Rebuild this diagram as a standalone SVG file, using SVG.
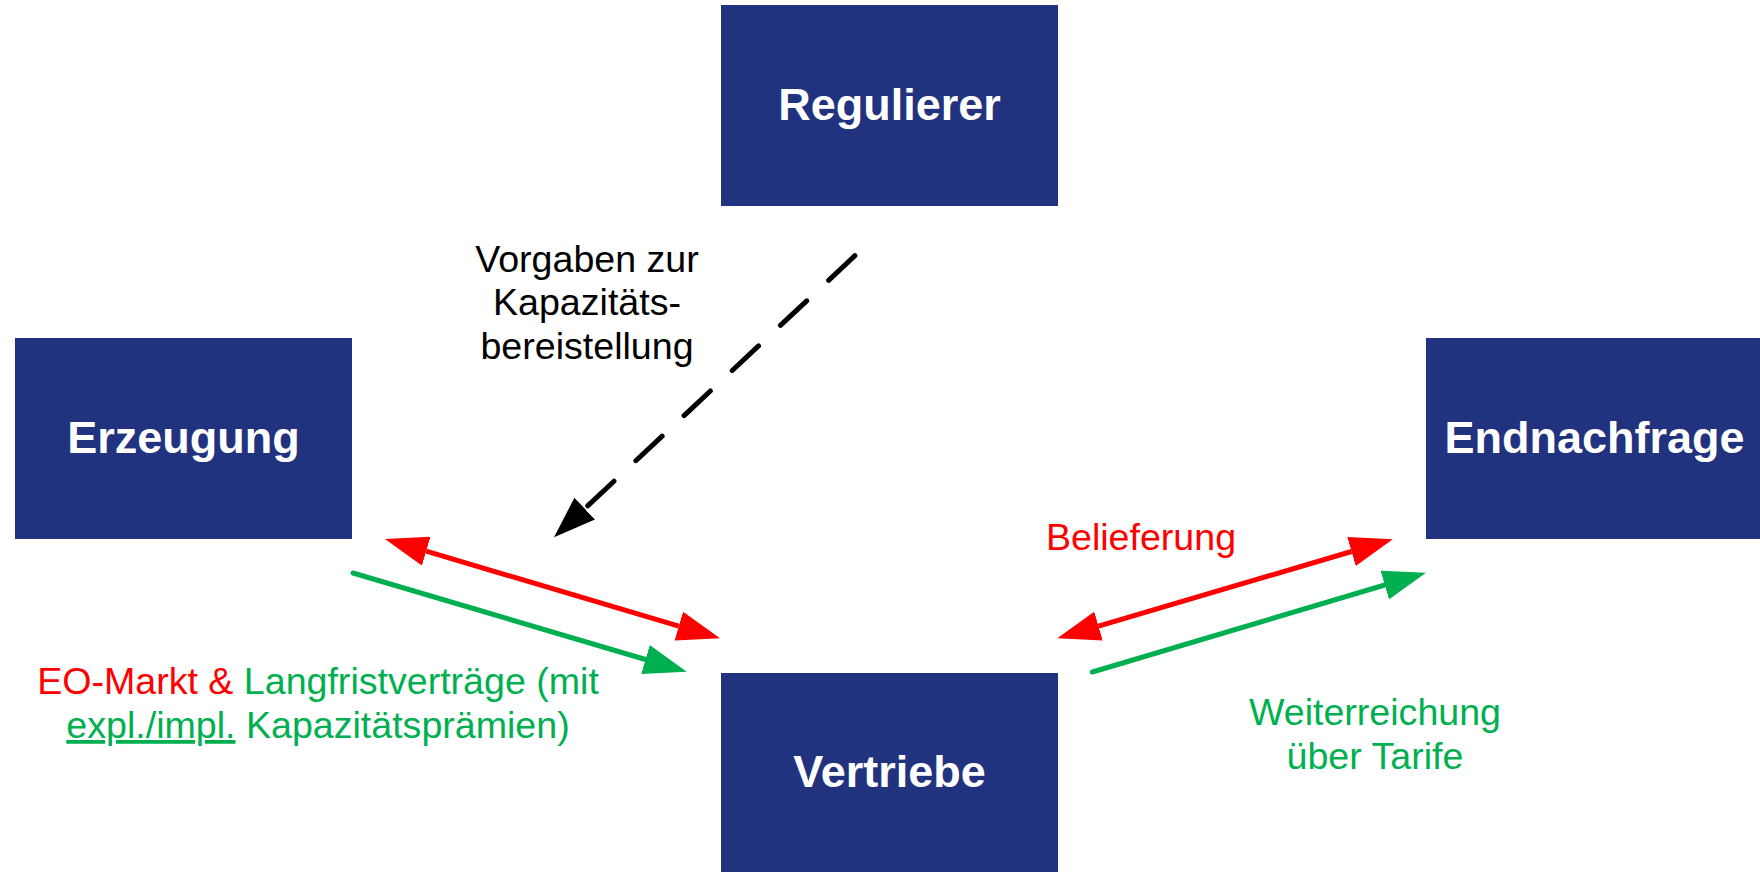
<svg xmlns="http://www.w3.org/2000/svg" width="1760" height="872" viewBox="0 0 1760 872">
  <style>
    .box { fill: #21327E; }
    .nodetext { font-family: "Liberation Sans", Arial, sans-serif; font-size: 45px; font-weight: bold; fill: #FFFFFF; text-anchor: middle; }
    .label { font-family: "Liberation Sans", Arial, sans-serif; font-size: 37.6px; text-anchor: middle; }
    .red { fill: #FF0000; }
    .green { fill: #00B050; }
    .black { fill: #000000; }
    .conn { fill: none; stroke-width: 5; }
  </style>
  <defs>
    <marker id="ah-red" viewBox="0 -15 43 30" refX="0" refY="0" markerWidth="43" markerHeight="30" markerUnits="userSpaceOnUse" orient="auto-start-reverse">
      <path d="M0,-15 L43,0 L0,15 Z" fill="#FF0000"/>
    </marker>
    <marker id="ah-green" viewBox="0 -15 43 30" refX="0" refY="0" markerWidth="43" markerHeight="30" markerUnits="userSpaceOnUse" orient="auto-start-reverse">
      <path d="M0,-15 L43,0 L0,15 Z" fill="#00B050"/>
    </marker>
    <marker id="ah-black" viewBox="0 -15 42 30" refX="0" refY="0" markerWidth="42" markerHeight="30" markerUnits="userSpaceOnUse" orient="auto">
      <path d="M0,-15 L42,0 L0,15 Z" fill="#000000"/>
    </marker>
  </defs>

  <g id="node-regulierer">
    <rect class="box" x="721" y="5" width="337" height="201"/>
    <text class="nodetext" x="889.5" y="119.5">Regulierer</text>
  </g>
  <g id="node-erzeugung">
    <rect class="box" x="15" y="338" width="337" height="201"/>
    <text class="nodetext" x="183.5" y="452.5">Erzeugung</text>
  </g>
  <g id="node-endnachfrage">
    <rect class="box" x="1426" y="338" width="337" height="201"/>
    <text class="nodetext" x="1594.5" y="452.5">Endnachfrage</text>
  </g>
  <g id="node-vertriebe">
    <rect class="box" x="721" y="673" width="337" height="201"/>
    <text class="nodetext" x="889.5" y="787">Vertriebe</text>
  </g>

  <g id="connectors">
    <path class="conn" d="M854.9,255.7 L584.7,508.6" stroke="#000000" stroke-linecap="round" stroke-dasharray="36 30" marker-end="url(#ah-black)"/>
    <path class="conn" d="M426.2,551.2 L678.8,626.1" stroke="#FF0000" marker-start="url(#ah-red)" marker-end="url(#ah-red)"/>
    <path class="conn" d="M353,573 L645.5,659.5" stroke="#00B050" stroke-linecap="round" marker-end="url(#ah-green)"/>
    <path class="conn" d="M1098.5,626.1 L1351.5,551.5" stroke="#FF0000" marker-start="url(#ah-red)" marker-end="url(#ah-red)"/>
    <path class="conn" d="M1092.4,672 L1384.8,585" stroke="#00B050" stroke-linecap="round" marker-end="url(#ah-green)"/>
  </g>

  <g id="labels">
    <text class="label black" x="587" y="272">Vorgaben zur</text>
    <text class="label black" x="587" y="315">Kapazitäts-</text>
    <text class="label black" x="587" y="359">bereistellung</text>

    <text class="label" x="318" y="694"><tspan class="red">EO-Markt &amp; </tspan><tspan class="green">Langfristverträge (mit</tspan></text>
    <text class="label green" x="318" y="738"><tspan text-decoration="underline">expl./impl.</tspan> Kapazitätsprämien)</text>

    <text class="label red" x="1141" y="550">Belieferung</text>

    <text class="label green" x="1375" y="725">Weiterreichung</text>
    <text class="label green" x="1375" y="769">über Tarife</text>
  </g>
</svg>
